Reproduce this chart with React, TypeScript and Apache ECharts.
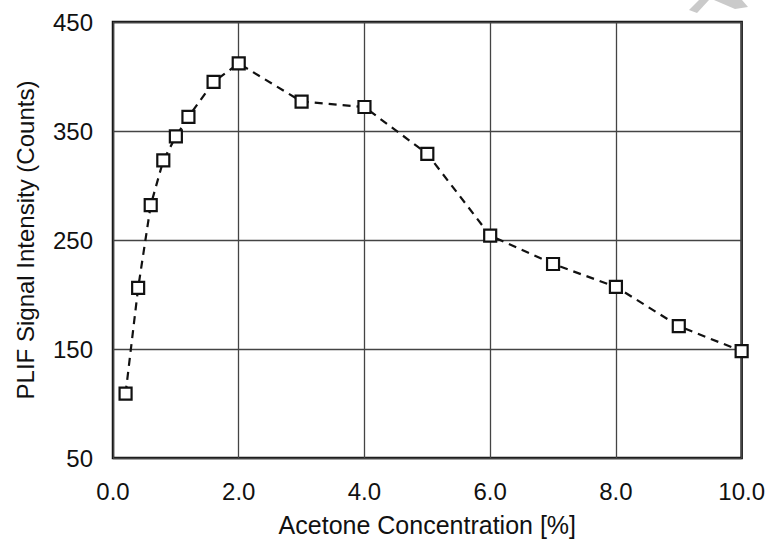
import React, { useEffect, useRef } from "react";
import * as echarts from "echarts";

// Acetone concentration [%] and measured PLIF signal intensity (counts)
const concentration = [0.2, 0.4, 0.6, 0.8, 1.0, 1.2, 1.6, 2.0, 3.0, 4.0, 5.0, 6.0, 7.0, 8.0, 9.0, 10.0];
const intensity = [109, 206, 282, 323, 345, 363, 395, 412, 377, 372, 329, 254, 228, 207, 171, 148];

const xTicks = [0, 2, 4, 6, 8, 10];
const yTicks = [50, 150, 250, 350, 450];

const FONT = "'Liberation Sans', Arial, sans-serif";

export default function App() {
  const ref = useRef<HTMLDivElement>(null);

  useEffect(() => {
    if (!ref.current) return;
    const chart = echarts.init(ref.current, null, { renderer: "svg" });
    chart.setOption({
      animation: false,
      backgroundColor: "#ffffff",
      grid: {
        left: 113,
        right: 25,
        top: 22,
        bottom: 98,
        show: true,
        borderColor: "#111",
        borderWidth: 2.5,
        backgroundColor: "transparent",
      },
      xAxis: {
        type: "value",
        min: xTicks[0],
        max: xTicks[xTicks.length - 1],
        interval: 2,
        name: "Acetone Concentration [%]",
        nameLocation: "middle",
        nameGap: 54,
        nameTextStyle: { fontFamily: FONT, fontSize: 25, color: "#111" },
        axisLine: { show: false },
        axisTick: { show: false },
        axisLabel: {
          margin: 21,
          fontFamily: FONT,
          fontSize: 24,
          color: "#111",
          formatter: (v: number) => v.toFixed(1),
        },
        splitLine: { show: true, lineStyle: { color: "#444", width: 1.3 } },
      },
      yAxis: {
        type: "value",
        min: yTicks[0],
        max: yTicks[yTicks.length - 1],
        interval: 50,
        name: "PLIF Signal Intensity (Counts)",
        nameLocation: "middle",
        nameGap: 76,
        nameRotate: 90,
        nameTextStyle: { fontFamily: FONT, fontSize: 24, color: "#111" },
        axisLine: { show: false },
        axisTick: { show: false },
        axisLabel: {
          margin: 20,
          fontFamily: FONT,
          fontSize: 24,
          color: "#111",
          formatter: (v: number) => (yTicks.indexOf(v) >= 0 ? String(v) : ""),
        },
        // lines alternate so only 50, 150, 250, 350, 450 are drawn
        splitLine: {
          show: true,
          lineStyle: { color: ["#444", "rgba(0,0,0,0)"], width: 1.3 },
        },
      },
      series: [
        {
          type: "line",
          data: concentration.map((c, i) => [c, intensity[i]]),
          symbol: "rect",
          symbolSize: 12,
          lineStyle: { color: "#111", width: 2.2, type: [8, 6] },
          itemStyle: { color: "#ffffff", borderColor: "#111", borderWidth: 2.2 },
          z: 5,
        },
      ],
      graphic: [
        {
          type: "polygon",
          shape: { points: [[689, 10], [699, 0], [709, 0], [697, 13]] },
          style: { fill: "#cacaca" },
          silent: true,
        },
        {
          type: "polygon",
          shape: { points: [[714, 0], [742, 0], [748, 7], [735, 9]] },
          style: { fill: "#cacaca" },
          silent: true,
        },
      ],
    });
    return () => chart.dispose();
  }, []);

  return (
    <div
      ref={ref}
      style={{ position: "absolute", left: 0, top: 0, width: 768, height: 556 }}
    />
  );
}
